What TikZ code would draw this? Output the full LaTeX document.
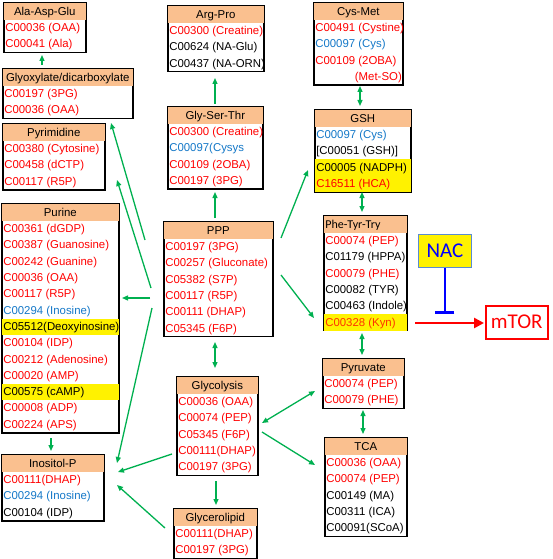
\documentclass[tikz,border=0pt]{standalone}
\usepackage{fontspec}
\setmainfont{Liberation Sans}
\newfontfamily\calfont{Carlito}
\usetikzlibrary{arrows.meta}
\definecolor{hdr}{RGB}{250,192,143}
\definecolor{ablue}{RGB}{20,120,200}
\definecolor{agreen}{RGB}{0,176,80}
\definecolor{kyn}{RGB}{255,50,0}
\definecolor{nacb}{RGB}{90,140,210}
\setlength\fboxsep{0pt}
\newlength\bw
\newcommand\hrow[1]{\hbox{\colorbox{hdr}{\makebox[\bw]{\rule[-4.5pt]{0pt}{17pt}#1}}}}
\newcommand\hrowl[1]{\hbox{\colorbox{hdr}{\makebox[\bw][l]{\rule[-4.5pt]{0pt}{17pt}\hspace{1.5pt}#1}}}}
\newcommand\rw[2]{\hbox{\makebox[\bw][l]{\rule[-4.5pt]{0pt}{16.3pt}\hspace{1.5pt}\textcolor{#1}{#2}}}}
\newcommand\rwr[2]{\hbox{\makebox[\bw][r]{\rule[-4.5pt]{0pt}{16.3pt}\textcolor{#1}{#2}\hspace{1pt}}}}
\newcommand\yrw[2]{\hbox{\colorbox{yellow}{\makebox[\bw][l]{\rule[-4.5pt]{0pt}{16.3pt}\hspace{1.5pt}\textcolor{#1}{#2}}}}}
\tikzset{
  mb/.style={draw=black, line width=1.6pt, inner sep=0pt, fill=white, anchor=north west,
    font=\fontsize{11.4}{13}\selectfont},
  ga/.style={draw=agreen, line width=1.3pt, -{Triangle[length=6pt,width=5pt]}},
  gd/.style={draw=agreen, line width=1.3pt, {Triangle[length=6pt,width=5pt]}-{Triangle[length=6pt,width=5pt]}},
  ra/.style={draw=red, line width=2.5pt, -{Triangle[length=10pt,width=10pt]}},
  inh/.style={draw=blue, line width=2.5pt, -{Bar[width=19pt,line width=2.5pt]}},
}
\begin{document}
\begin{tikzpicture}[x=1pt,y=-1pt]
\useasboundingbox (0,0) rectangle (553,559);

\node[mb] (ala) at (3,2) {\setlength\bw{82pt}\vbox{\offinterlineskip
  \hrow{Ala-Asp-Glu}\rw{red}{C00036 (OAA)}\rw{red}{C00041 (Ala)}}};
\node[mb] (glyox) at (2,68) {\setlength\bw{130pt}\vbox{\offinterlineskip
  \hrow{Glyoxylate/dicarboxylate}\rw{red}{C00197 (3PG)}\rw{red}{C00036 (OAA)}}};
\node[mb] (pyr) at (2,123) {\setlength\bw{102pt}\vbox{\offinterlineskip
  \hrow{Pyrimidine}\rw{red}{C00380 (Cytosine)}\rw{red}{C00458 (dCTP)}\rw{red}{C00117 (R5P)}}};
\node[mb] (purine) at (1,203) {\setlength\bw{117pt}\vbox{\offinterlineskip
  \hrow{Purine}
  \rw{red}{C00361 (dGDP)}\rw{red}{C00387 (Guanosine)}\rw{red}{C00242 (Guanine)}
  \rw{red}{C00036 (OAA)}\rw{red}{C00117 (R5P)}\rw{ablue}{C00294 (Inosine)}
  \yrw{black}{C05512(Deoxyinosine)}\rw{red}{C00104 (IDP)}\rw{red}{C00212 (Adenosine)}
  \rw{red}{C00020 (AMP)}\yrw{black}{C00575 (cAMP)}\rw{red}{C00008 (ADP)}\rw{red}{C00224 (APS)}}};
\node[mb] (inos) at (1,454) {\setlength\bw{102pt}\vbox{\offinterlineskip
  \hrow{Inositol-P}\rw{red}{C00111(DHAP)}\rw{ablue}{C00294 (Inosine)}\rw{black}{C00104 (IDP)}}};

\node[mb] (arg) at (167,5) {\setlength\bw{96pt}\vbox{\offinterlineskip
  \hrow{Arg-Pro}\rw{red}{C00300 (Creatine)}\rw{black}{C00624 (NA-Glu)}\rw{black}{C00437 (NA-ORN)}}};
\node[mb] (gst) at (167,106) {\setlength\bw{95pt}\vbox{\offinterlineskip
  \hrow{Gly-Ser-Thr}\rw{red}{C00300 (Creatine)}\rw{ablue}{C00097(Cysys}\rw{red}{C00109 (2OBA)}\rw{red}{C00197 (3PG)}}};
\node[mb] (ppp) at (163,221) {\setlength\bw{109pt}\vbox{\offinterlineskip
  \hrow{PPP}\rw{red}{C00197 (3PG)}\rw{red}{C00257 (Gluconate)}\rw{red}{C05382 (S7P)}
  \rw{red}{C00117 (R5P)}\rw{red}{C00111 (DHAP)}\rw{red}{C05345 (F6P)}}};
\node[mb] (glyc) at (176,376) {\setlength\bw{81pt}\vbox{\offinterlineskip
  \hrow{Glycolysis}\rw{red}{C00036 (OAA)}\rw{red}{C00074 (PEP)}\rw{red}{C05345 (F6P)}
  \rw{red}{C00111(DHAP)}\rw{red}{C00197 (3PG)}}};
\node[mb] (glycl) at (173,508) {\setlength\bw{83pt}\vbox{\offinterlineskip
  \hrow{Glycerolipid}\rw{red}{C00111(DHAP)}\rw{red}{C00197 (3PG)}}};

\node[mb] (cys) at (313,2) {\setlength\bw{89pt}\vbox{\offinterlineskip
  \hrow{Cys-Met}\rw{red}{C00491 (Cystine)}\rw{ablue}{C00097 (Cys)}\rw{red}{C00109 (2OBA)}\rwr{red}{(Met-SO)}}};
\node[mb] (gsh) at (314,109) {\setlength\bw{96pt}\vbox{\offinterlineskip
  \hrow{GSH}\rw{ablue}{C00097 (Cys)}\rw{black}{[C00051 (GSH)]}\yrw{black}{C00005 (NADPH)}\yrw{red}{C16511 (HCA)}}};
\node[mb] (phe) at (323,215) {\setlength\bw{83pt}\vbox{\offinterlineskip
  \hrowl{{\calfont\fontsize{12}{14}\selectfont Phe-Tyr-Try}}\rw{red}{C00074 (PEP)}\rw{black}{C01179 (HPPA)}
  \rw{red}{C00079 (PHE)}\rw{black}{C00082 (TYR)}\rw{black}{C00463 (Indole)}\yrw{kyn}{C00328 (Kyn)}}};
\node[mb] (pyru) at (322,358) {\setlength\bw{81pt}\vbox{\offinterlineskip
  \hrow{Pyruvate}\rw{red}{C00074 (PEP)}\rw{red}{C00079 (PHE)}}};
\node[mb] (tca) at (324,437) {\setlength\bw{82pt}\vbox{\offinterlineskip
  \hrow{TCA}\rw{red}{C00036 (OAA)}\rw{red}{C00074 (PEP)}\rw{black}{C00149 (MA)}
  \rw{black}{C00311 (ICA)}\rw{black}{C00091(SCoA)}}};

\node[draw=nacb, line width=0.8pt, fill=yellow, anchor=north west, minimum width=53pt, minimum height=33pt,
  inner sep=0pt, text=blue, font=\calfont\fontsize{21}{24}\selectfont] (nac) at (418,234) {NAC};
\node[draw=red, line width=1.5pt, fill=white, anchor=north west, minimum width=62pt, minimum height=33pt,
  inner sep=0pt, text=red, font=\calfont\fontsize{21}{24}\selectfont] (mtor) at (485,305) {mTOR};

% connectors
\draw[ga] ([shift={(40,-3)}]glyox.north west) -- ([shift={(39,53)}]ala.north west);
\draw[ga] ([shift={(48,-2)}]gst.north west) -- ([shift={(48,73)}]arg.north west);
\draw[ga] ([shift={(52,-3)}]ppp.north west) -- ([shift={(48,86)}]gst.north west);
\draw[ga] ([shift={(-18,19)}]ppp.north west) -- ([shift={(109,55)}]glyox.north west);
\draw[ga] ([shift={(-12,67)}]ppp.north west) -- ([shift={(115,57)}]pyr.north west);
\draw[ga] ([shift={(-13,77)}]ppp.north west) -- ([shift={(121,95)}]purine.north west);
\draw[ga] ([shift={(-11,87)}]ppp.north west) -- ([shift={(116,9)}]inos.north west);
\draw[ga] ([shift={(-4,78)}]glyc.north west) -- ([shift={(117,18)}]inos.north west);
\draw[ga] ([shift={(-8,20)}]glycl.north west) -- ([shift={(116,31)}]inos.north west);
\draw[ga] ([shift={(50,235)}]purine.north west) -- ([shift={(50,-3)}]inos.north west);
\draw[gd] ([shift={(52,121)}]ppp.north west) -- ([shift={(39,-8)}]glyc.north west);
\draw[ga] ([shift={(40,105)}]glyc.north west) -- ([shift={(43,-3)}]glycl.north west);
\draw[ga] ([shift={(118,17)}]ppp.north west) -- ([shift={(-6,61)}]gsh.north west);
\draw[ga] ([shift={(118,54)}]ppp.north west) -- ([shift={(-9,103)}]phe.north west);
\draw[gd] ([shift={(47,84)}]cys.north west) -- ([shift={(46,-3)}]gsh.north west);
\draw[gd] ([shift={(48,83)}]gsh.north west) -- ([shift={(39,-3)}]phe.north west);
\draw[gd] ([shift={(39,118)}]phe.north west) -- ([shift={(40,-3)}]pyru.north west);
\draw[gd] ([shift={(41,52)}]pyru.north west) -- ([shift={(39,-3)}]tca.north west);
\draw[gd] ([shift={(86,47)}]glyc.north west) -- ([shift={(-7,33)}]pyru.north west);
\draw[ga] ([shift={(86,56)}]glyc.north west) -- ([shift={(-9,28)}]tca.north west);
\draw[ra] ([shift={(92,108)}]phe.north west) -- ([shift={(-1,18)}]mtor.north west);
\draw[inh] (nac.south) -- ([shift={(0,46)}]nac.south);
\end{tikzpicture}
\end{document}
